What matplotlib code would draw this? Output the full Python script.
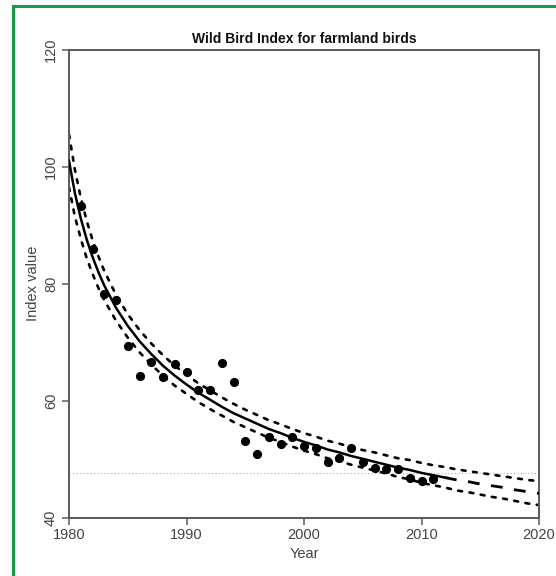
import matplotlib
matplotlib.use('Agg')
import matplotlib.pyplot as plt
from matplotlib.lines import Line2D
import numpy as np

plt.rcParams['font.family'] = ['Liberation Sans', 'DejaVu Sans']
plt.rcParams['lines.scale_dashes'] = False

# observed index values
years = [1981, 1982, 1983, 1984, 1985, 1986, 1987, 1988, 1989, 1990,
         1991, 1992, 1993, 1994, 1995, 1996, 1997, 1998, 1999, 2000,
         2001, 2002, 2003, 2004, 2005, 2006, 2007, 2008, 2009, 2010, 2011]
index_values = [93.3, 85.9, 78.3, 77.2, 69.3, 64.2, 66.7, 64.1, 66.3, 65.0,
                61.9, 61.9, 66.4, 63.2, 53.1, 51.0, 53.9, 52.6, 53.8, 52.3,
                52.0, 49.6, 50.2, 51.9, 49.6, 48.6, 48.4, 48.4, 46.8, 46.4, 46.6]

# fitted trend and its confidence band
fit_years = [1980, 1980.5, 1981, 1981.5, 1982, 1982.5, 1983, 1984, 1985, 1986,
             1987, 1988, 1989, 1990, 1991, 1992, 1993, 1994, 1995, 1996,
             1997, 1998, 1999, 2000, 2001, 2002, 2003, 2004, 2005, 2006,
             2007, 2008, 2009, 2010, 2011, 2012, 2013, 2014, 2015, 2016,
             2017, 2018, 2019, 2020]
fit = [101.0, 95.5, 91.2, 87.6, 84.6, 82.0, 79.7, 75.9, 72.8, 70.2,
       68.0, 66.0, 64.3, 62.8, 61.4, 60.2, 59.0, 57.9, 57.0, 56.1,
       55.2, 54.5, 53.7, 53.0, 52.4, 51.7, 51.2, 50.6, 50.1, 49.6,
       49.1, 48.6, 48.2, 47.7, 47.3, 46.9, 46.5, 46.2, 45.8, 45.5,
       45.2, 44.8, 44.5, 44.2]
upper = [105.5, 99.5, 94.7, 90.8, 87.5, 84.7, 82.2, 78.1, 74.8, 72.1,
         69.8, 67.8, 66.0, 64.5, 63.0, 61.8, 60.6, 59.5, 58.5, 57.6,
         56.7, 56.0, 55.2, 54.5, 53.9, 53.2, 52.7, 52.1, 51.6, 51.2,
         50.7, 50.2, 49.9, 49.4, 49.0, 48.7, 48.3, 48.0, 47.7, 47.4,
         47.1, 46.8, 46.5, 46.3]
lower = [96.5, 91.5, 87.7, 84.4, 81.7, 79.3, 77.2, 73.7, 70.8, 68.3,
         66.2, 64.3, 62.6, 61.2, 59.8, 58.6, 57.5, 56.4, 55.5, 54.6,
         53.7, 53.0, 52.2, 51.5, 50.9, 50.2, 49.7, 49.1, 48.6, 48.1,
         47.6, 47.0, 46.6, 46.0, 45.6, 45.2, 44.7, 44.4, 44.0, 43.6,
         43.3, 42.9, 42.5, 42.2]
last_obs_fit = 2012
reference_level = 47.6

fy = np.array(fit_years)
fv = np.array(fit)

fig = plt.figure(figsize=(5.56, 5.76), dpi=100)
ax = fig.add_axes([69 / 556, 1 - 518 / 576, 470 / 556, 468.5 / 576])

grey = '#5a5a5a'
txt = '#444444'

ax.axhline(reference_level, color='#b8b8b8', lw=0.8, ls=(0, (1, 1.5)), zorder=1)

dot = (0, (2.8, 5.4))
ax.plot(fit_years, upper, color='black', lw=1.9, ls=dot, dash_capstyle='round', zorder=2)
ax.plot(fit_years, lower, color='black', lw=1.9, ls=dot, dash_capstyle='round', zorder=2)

solid = fy <= last_obs_fit
dashed = fy >= last_obs_fit
ax.plot(fy[solid], fv[solid], color='black', lw=1.8, zorder=3)
ax.plot(fy[dashed], fv[dashed], color='black', lw=2.0, ls=(0, (8.5, 8.3)), zorder=3)

ax.plot(years, index_values, 'o', color='black', ms=5.6, zorder=4)

ax.set_xlim(1980, 2020)
ax.set_ylim(40, 120)
ax.set_xticks([1980, 1990, 2000, 2010, 2020])
ax.set_yticks([40, 60, 80, 100, 120])
for lbl in ax.get_yticklabels():
    lbl.set_rotation(90)
    lbl.set_va('center')
ax.tick_params(direction='out', length=5, width=1.1, color=grey, labelcolor=txt,
               labelsize=10.5, pad=3)
ax.tick_params(axis='x', pad=2)
for s in ax.spines.values():
    s.set_color(grey)
    s.set_linewidth(1.4)

ax.set_title('Wild Bird Index for farmland birds', fontsize=10, fontweight='bold',
             color='#111111', pad=5)
ax.set_xlabel('Year', fontsize=10.5, color=txt, labelpad=4)
ax.set_ylabel('Index value', fontsize=10.5, color=txt, labelpad=3)

# green frame on top and left edges
green = '#1a9a48'
fig.add_artist(Line2D([12.5 / 556, 1], [1 - 6 / 576, 1 - 6 / 576], color=green, lw=2.2,
                      transform=fig.transFigure))
fig.add_artist(Line2D([12.5 / 556, 12.5 / 556], [0, 1 - 6 / 576], color=green, lw=2.2,
                      transform=fig.transFigure))

fig.savefig('out.png', dpi=100)
